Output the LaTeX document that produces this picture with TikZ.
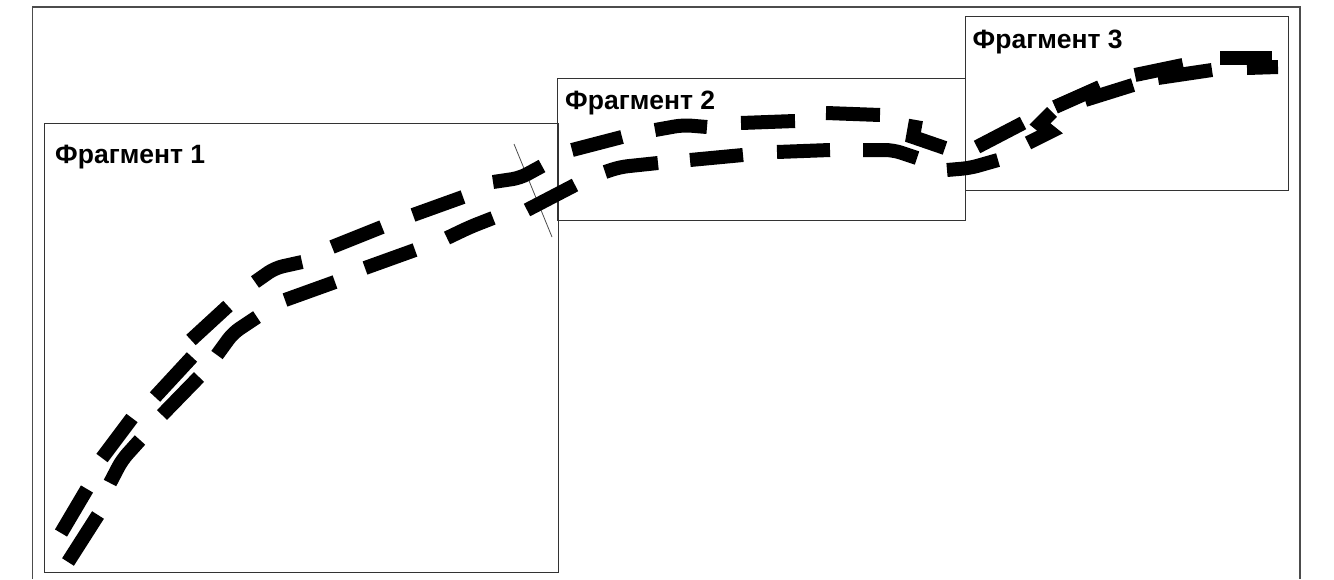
\documentclass[tikz,border=0pt]{standalone}
\usepackage{fontspec}
\setmainfont{Liberation Sans}
\begin{document}
\begin{tikzpicture}[x=1pt,y=-1pt,
  frameline/.style={draw=black!70,line width=1.3pt},
  boxline/.style={draw=black!80,line width=1pt},
  dashseg/.style={line width=14pt,line join=round,rounded corners=8pt},
  thinline/.style={draw=black!70,line width=0.8pt},
  lbl/.style={anchor=base west,inner sep=0pt,font=\fontsize{26.5}{30}\selectfont\bfseries}]
\useasboundingbox (0,0) rectangle (1334,579);
% outer frame
\coordinate (o1) at (32.5,579);
\coordinate (o2) at (32.5,7);
\coordinate (o3) at (1300,7);
\coordinate (o4) at (1300,579);
\draw[frameline] (o1) -- (o2) -- (o3) -- (o4);
% fragment boxes
\draw[boxline] (44,123) rectangle (558,572);
\draw[boxline] (557,78) rectangle (965,220);
\draw[boxline] (965,16) rectangle (1288,190);
\node[lbl] (t1) at (55,163) {Фрагмент 1};
\node[lbl] (t2) at (565,109.5) {Фрагмент 2};
\node[lbl] (t3) at (972.5,48.5) {Фрагмент 3};
% thin crossing line
\coordinate (c1) at (514,144);
\coordinate (c2) at (552,237);
\draw[thinline] (c1) -- (c2);
% upper track
\draw[dashseg] (61,533) -- (87,489);
\draw[dashseg] (102,458) -- (132,418);
\draw[dashseg] (155,397) -- (192,357);
\draw[dashseg] (191,340) -- (228,306);
\draw[dashseg] (255,282) -- (275,268) -- (302,262);
\draw[dashseg] (332,247) -- (382,227);
\draw[dashseg] (413,215) -- (463,197);
\draw[dashseg] (493,182) -- (520,178) -- (542,166);
\draw[dashseg] (572,150) -- (622,137);
\draw[dashseg] (655,130) -- (683,125) -- (707,127);
\draw[dashseg] (741,123) -- (795,121);
\draw[dashseg] (826,113) -- (880,115);
\draw[dashseg,rounded corners=0pt,line join=miter] (916,120) -- (913,137) -- (945,148);
\draw[dashseg] (977,147) -- (1023,123);
\draw[dashseg] (1055,107) -- (1100,87);
\draw[dashseg] (1135,75) -- (1183,65);
\draw[dashseg] (1220,58) -- (1272,58);
% lower track
\draw[dashseg] (68,562) -- (98,515);
\draw[dashseg] (110,483) -- (122,460) -- (140,440);
\draw[dashseg] (162,415) -- (199,377);
\draw[dashseg] (217,355) -- (233,333) -- (257,317);
\draw[dashseg] (285,300) -- (335,282);
\draw[dashseg] (365,268) -- (415,250);
\draw[dashseg] (447,238) -- (470,227) -- (493,218);
\draw[dashseg] (527,210) -- (575,185);
\draw[dashseg] (605,172) -- (620,167) -- (658,163);
\draw[dashseg] (690,160) -- (743,155);
\draw[dashseg] (777,152) -- (830,150);
\draw[dashseg] (863,150) -- (893,150) -- (917,158);
\draw[dashseg] (947,170) -- (970,168) -- (998,160);
\draw[dashseg,rounded corners=0pt,line join=miter] (1028,143) -- (1050,132) -- (1040,124) -- (1052,112);
\draw[dashseg] (1085,100) -- (1133,85);
\draw[dashseg] (1158,78) -- (1212,70);
\draw[dashseg] (1247,68) -- (1278,67);
\end{tikzpicture}
\end{document}
